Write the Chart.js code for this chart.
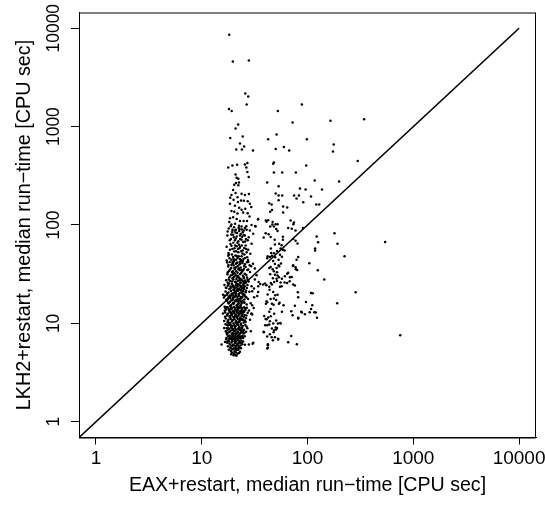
<!DOCTYPE html>
<html>
<head>
<meta charset="utf-8">
<script src="https://cdn.jsdelivr.net/npm/chart.js@4/dist/chart.umd.min.js"></script>
<style>
  html, body { margin: 0; padding: 0; background: #fff; }
  canvas { display: block; }
</style>
</head>
<body>
<canvas id="c" width="545" height="508"></canvas>
<script>
// ---- Data: [EAX+restart median run-time, LKH2+restart median run-time] in CPU sec ----
const xTitle = 'EAX+restart, median run\u2212time [CPU sec]';
const yTitle = 'LKH2+restart, median run\u2212time [CPU sec]';
const tickValues = [1, 10, 100, 1000, 10000];
const axisMin = 0.6918;
const axisMax = 14454;
const diagonalEnds = [axisMin, 10000];

const topOutliers = [[18.2,8610],[19.7,4580],[27.9,4690],[25.8,2170],[27.5,2020],[26.6,1680],[18.1,1510],[19.2,1440],[22.1,1050],[20.9,957],[18.6,764],[24.4,793],[23.0,674],[25.2,628],[24.0,586],[21.2,586],[30.5,572]];

const columnUpper = [[17.8,385],[19.5,403],[21.6,410],[25.6,413],[27.0,426],[26.4,385],[27.0,346],[27.8,308],[20.9,327],[21.4,303],[22.2,295],[21.1,267],[20.3,256],[22.2,254],[22.5,271],
[19.8,227],[19.1,202],[20.9,211],[18.6,189],[20.0,181],[21.8,192],[23.8,208],[25.6,202],[27.9,207],[23.5,177],[22.0,171],[25.0,176],[27.2,174],[28.5,164],[18.5,164],[20.6,157],[22.6,150],[23.8,143],[25.8,146],[29.4,152],[19.1,139],[20.3,136],[21.8,131],[24.6,134],[27.2,132],[28.3,122],[18.5,117],[19.8,120],[21.4,115],[23.0,110],[24.9,110],[26.8,110],[18.2,107],[19.1,101],[20.7,103],[22.5,98.5],[23.8,96.8],[25.6,93.3],[29.6,100],[32.3,96.8],[34.2,115],
[19.5,89.6],[21.1,89.6],[22.6,86.9],[24.4,84.3],[26.6,89.6],[28.5,88.1],[19.8,79.6],[21.4,76.6],[23.0,78.0],[25.6,78.0],[30.7,81.6],[18.9,72.1],[20.6,69.8],[22.2,68.2],[23.8,70.9],[27.2,69.8],[29.6,64.6],[19.1,61.7],[21.4,60.7],[23.0,59.8],[25.2,58.4],[18.5,56.1],[20.3,53.9],[22.2,52.7],[24.2,51.2],[26.6,52.7],[17.8,48.8],[19.8,47.3],[21.8,46.3],[23.8,48.0],[25.6,46.3],[19.1,44.4],[21.1,44.4],
[18.0,92],[19.4,85],[20.2,95],[21.6,83],[22.8,91],[24.1,76],[25.0,88],[26.2,72],[17.5,78],[19.9,66],[21.0,73],[22.5,63],[23.4,81],[24.7,67],[26.0,62],[27.8,75],[18.7,64],[20.4,58],[22.0,57],[23.6,54],[25.3,50],[27.5,56],[17.9,52],[19.3,50],[20.8,49],[22.9,45],[24.5,43],[26.9,47],[28.8,51],[18.3,46],[21.7,41.5],[23.2,40.5]];

const columnMid = [[17.2,43.5],[18.4,42.1],[19.6,40.8],[20.3,43.9],[21.5,41.2],[22.7,39.6],[23.9,42.8],[25.2,38.4],[26.8,41.7],[28.4,39.0],
[17.8,37.8],[19.0,36.5],[20.0,38.9],[21.1,37.2],[22.2,35.8],[23.3,36.9],[24.6,34.7],[26.0,37.5],[27.5,35.2],[29.3,38.1],
[18.1,34.1],[19.3,33.2],[20.6,35.5],[21.8,32.8],[22.9,34.6],[24.1,33.7],[25.5,31.9],[27.0,34.9],
[17.5,31.5],[18.8,30.6],[19.8,32.2],[20.9,31.1],[22.0,30.2],[23.6,32.6],[24.9,29.8],[26.4,31.0],
[18.3,29.4],[19.5,28.6],[20.4,29.9],[21.3,28.2],[22.5,29.1],[23.8,27.7],[25.0,28.8],
[17.0,27.4],[18.6,26.9],[19.9,27.9],[21.0,26.5],[22.1,27.2],[23.1,26.1],[24.4,27.0],[25.9,25.8],[27.8,26.7],
[18.0,25.6],[19.2,25.3],[20.7,26.3],[21.9,25.1],[23.4,25.9],[24.8,25.4],[26.2,26.0],
[30.5,40.3],[31.8,36.2],[33.0,30.8],[17.9,39.2],[20.1,42.6],[22.4,36.1],[24.3,41.0],[19.7,33.9],[21.6,30.4],
[16.4,24.6],[17.6,24.1],[18.7,23.7],[19.5,24.9],[20.2,23.3],[21.0,24.4],[21.8,23.9],[22.6,24.7],[23.5,23.5],[24.4,24.2],[25.6,23.8],[27.1,24.5],
[17.1,22.9],[18.2,22.4],[19.1,23.1],[19.9,22.0],[20.6,22.7],[21.4,21.6],[22.3,22.5],[23.1,21.9],[24.0,22.8],[25.1,22.2],[26.3,21.4],
[16.8,21.1],[17.9,20.6],[18.9,21.3],[19.7,20.3],[20.5,20.9],[21.2,20.1],[22.0,21.5],[22.9,20.4],[23.8,20.8],[24.8,19.9],[26.0,20.7],[28.2,21.0],
[17.3,19.6],[18.4,19.2],[19.3,19.8],[20.1,18.9],[20.9,19.4],[21.7,18.7],[22.5,19.1],[23.4,18.5],[24.6,19.5],[25.8,18.8],
[16.2,18.3],[17.7,17.9],[18.6,18.1],[19.6,17.6],[20.4,18.4],[21.1,17.3],[21.9,17.8],[22.8,17.1],[23.7,18.0],[25.3,17.5],[27.4,17.7],
[17.4,16.9],[18.5,16.5],[19.4,17.2],[20.3,16.3],[21.5,16.8],[22.4,16.1],[23.6,16.6],[24.9,16.4],
[18.0,15.9],[19.0,15.4],[20.0,15.7],[21.3,15.2],[22.2,15.8],[23.3,15.3],[26.6,15.6],[29.0,16.0],
[31.2,22.6],[33.5,19.0],[15.9,19.6],[31.8,27.9],[34.2,23.8],[31.3,18.4]];

const columnLower = [[16.5,14.8],[17.6,14.5],[18.5,14.9],[19.3,14.2],[20.1,14.7],[20.8,14.0],[21.6,14.6],[22.4,14.3],[23.2,14.8],[24.1,14.1],[25.2,14.6],[26.7,14.4],
[17.0,13.8],[18.1,13.5],[18.9,13.9],[19.7,13.3],[20.5,13.7],[21.3,13.4],[22.0,13.9],[22.8,13.2],[23.7,13.6],[24.7,13.4],[25.9,13.7],[28.0,13.5],
[16.7,12.9],[17.8,12.6],[18.7,13.0],[19.5,12.5],[20.3,12.8],[21.0,12.4],[21.8,12.9],[22.6,12.3],[23.4,12.7],[24.4,12.5],[25.5,12.2],[27.2,12.8],
[17.3,12.0],[18.3,11.8],[19.1,12.1],[19.9,11.6],[20.7,11.9],[21.5,11.5],[22.2,12.0],[23.0,11.4],[23.9,11.8],[25.0,11.6],[26.2,11.3],
[16.9,11.2],[17.9,10.9],[18.8,11.1],[19.6,10.7],[20.4,11.0],[21.2,10.6],[21.9,11.1],[22.7,10.5],[23.6,10.9],[24.6,10.8],[26.0,10.4],[28.6,10.9],
[17.5,10.3],[18.4,10.1],[19.2,10.4],[20.0,10.0],[20.9,10.2],[21.7,10.1],[22.5,10.3],[23.5,10.0],[24.9,10.2],
[18.0,14.0],[19.0,12.7],[20.2,11.4],[21.4,13.1],[22.9,14.4],[24.2,13.0],[15.9,12.6],[16.3,10.6],[29.5,12.5],[31.0,14.3],[16.6,14.4],[29.6,12.5],
[16.8,9.8],[17.7,9.5],[18.6,9.9],[19.4,9.3],[20.2,9.7],[21.0,9.4],[21.8,9.8],[22.6,9.2],[23.5,9.6],[24.5,9.4],[25.8,9.7],
[17.2,9.0],[18.2,8.8],[19.0,9.1],[19.8,8.7],[20.6,9.0],[21.4,8.6],[22.2,8.9],[23.1,8.5],[24.0,8.8],[25.1,8.6],[27.0,8.9],
[16.9,8.3],[17.9,8.1],[18.8,8.4],[19.6,8.0],[20.4,8.3],[21.2,7.9],[22.0,8.2],[22.8,7.8],[23.8,8.1],[24.8,7.9],[26.3,8.2],
[17.4,7.7],[18.4,7.5],[19.2,7.8],[20.0,7.4],[20.8,7.6],[21.6,7.3],[22.4,7.7],[23.3,7.2],[24.3,7.5],[25.5,7.4],
[17.1,7.1],[18.0,7.0],[18.9,7.2],[19.7,7.05],[20.5,7.15],[21.3,7.0],[22.1,7.1],[23.0,7.0],[24.0,7.2],
[18.5,9.6],[19.9,8.5],[21.5,9.9],[22.9,9.0],[20.9,7.9],[23.6,8.4],[16.3,9.0],[26.5,9.3],[29.1,8.3],[17.6,8.6],[19.5,7.6],[21.9,7.5],
[17.0,6.9],[17.9,6.7],[18.7,6.95],[19.5,6.6],[20.3,6.85],[21.1,6.5],[21.9,6.8],[22.7,6.45],[23.6,6.7],[24.6,6.55],
[17.4,6.35],[18.3,6.2],[19.1,6.4],[19.9,6.1],[20.7,6.3],[21.5,6.0],[22.3,6.25],[23.2,5.95],[24.2,6.15],[25.6,6.05],
[17.7,5.85],[18.6,5.7],[19.4,5.9],[20.2,5.6],[21.0,5.8],[21.8,5.55],[22.6,5.75],[23.5,5.6],
[18.1,6.55],[20.6,6.6],[22.0,5.95],[19.7,5.5],[27.9,6.1],[30.7,6.35],[15.4,6.1],[16.6,6.45],
[18.0,5.4],[18.9,5.25],[19.7,5.45],[20.5,5.2],[21.4,5.35],[22.2,5.4],[23.0,5.15],[19.3,5.05],[20.1,4.95],[21.0,5.1],[21.8,4.9],[19.0,4.85],[20.7,4.8],[22.5,5.0],[20.0,4.75],[21.3,4.7]];

const columnFill = [[18.8,97],[20.5,88],[22.3,94],[24.0,90],[26.4,97],[17.6,86],[19.0,80],[20.9,84],[23.1,72],[24.9,79],[18.4,70],[20.1,75],[21.8,66],[23.9,62],[25.7,68],[17.2,60],[19.5,57],[21.2,54],[22.7,58],[24.4,55],[26.3,57],[18.1,50],[20.0,45],[22.4,48],[24.8,45],[27.4,44],[19.6,42],[21.4,48.5],[23.5,44],[20.7,62],
[17.4,41.5],[19.1,39.3],[21.0,40.4],[22.9,42.3],[25.6,40.0],[27.6,42.0],[18.5,35.2],[20.3,36.8],[21.9,38.4],[23.7,35.1],[25.1,36.0],[28.6,33.2],[17.6,33.0],[19.5,31.3],[21.2,33.9],[23.0,31.6],[24.5,30.5],[26.8,29.3],[18.0,28.0],[19.9,29.2],[21.7,29.6],[23.3,28.5],[25.7,27.3],[17.6,26.0],[19.4,26.6],[21.3,25.5],[22.8,27.5],[25.0,26.3],[27.2,28.0],[20.4,32.4],
[17.9,24.8],[19.8,24.0],[21.4,23.6],[23.0,24.3],[24.9,23.2],[26.7,22.9],[16.9,23.0],[18.6,22.6],[20.3,21.8],[21.8,22.3],[23.6,21.7],[24.6,21.2],[17.5,20.2],[19.2,20.0],[20.8,20.5],[22.4,19.8],[24.2,20.1],[25.4,19.4],[16.6,19.1],[18.0,18.6],[19.8,18.3],[21.3,18.9],[23.0,17.8],[24.3,18.7],[26.5,18.3],[17.0,17.4],[18.9,17.1],[20.7,17.0],[22.1,16.9],[24.2,17.0],[17.8,16.2],[19.7,16.0],[21.8,15.5],[23.8,15.9],[25.4,16.2],
[17.3,14.6],[19.0,14.6],[20.6,14.3],[22.2,14.7],[23.8,14.4],[25.7,14.2],[16.5,13.4],[18.5,13.2],[20.1,13.1],[21.7,13.6],[23.3,13.3],[25.2,13.1],[17.5,12.3],[19.2,12.3],[20.8,12.2],[22.4,12.6],[24.0,12.1],[26.5,12.0],[16.6,11.7],[18.6,11.5],[20.4,11.7],[21.8,11.8],[23.3,11.2],[24.3,11.0],[17.7,10.6],[19.4,10.8],[21.2,10.3],[22.9,10.8],[25.5,10.7],[18.1,10.05],
[17.4,9.7],[19.0,9.5],[20.6,9.35],[22.2,9.6],[24.0,9.1],[17.8,8.9],[19.4,8.8],[21.0,8.6],[22.6,8.7],[24.5,8.3],[17.2,8.0],[18.4,8.2],[20.0,7.9],[21.6,8.1],[23.2,8.0],[25.3,8.0],[17.8,7.4],[19.5,7.3],[21.0,7.25],[22.7,7.4],[24.6,7.1],[18.5,7.0],[20.3,7.0],[21.8,7.0],[23.5,7.35],
[17.6,6.6],[19.3,6.8],[20.9,6.7],[22.5,6.6],[24.0,6.4],[18.8,6.0],[20.4,5.95],[21.7,6.2],[23.0,6.3],[19.0,5.55],[20.9,5.5],[22.3,5.6]];

const sparseRight = [[42.5,746],[51.0,831],[52.5,1440],[88.5,1680],[72.3,1100],[165,1150],[343,1190],[98.6,746],[177,658],[174,559],[50.0,591],[59.8,619],[67.1,572],[298,447],[97.2,403],[48.1,432],[47.4,419],
[48.1,342],[57.7,342],[77.6,342],[41.6,271],[117,284],[199,277],[53.3,247],[84.8,235],[95.9,230],[137,230],
[50.0,209],[53.3,200],[57.7,200],[74.8,200],[82.9,200],[78.8,186],[108,195],[53.3,178],[91.1,170],[121,162],[129,162],[43.5,166],[45.8,162],[58.9,154],[64.3,151],
[44.4,136],[46.1,142],[58.9,134],[34.0,114],[40.4,111],[42.5,112],[69.2,111],[74.3,106],[46.8,107],[50.0,102],[52.1,102],[48.1,96.8],[50.6,91.1],[52.1,86.9],[65.7,93.3],[77.1,88.1],[90.5,93.3],[32.0,97.7],
[40.2,82.2],[38.5,74.8],[44.8,75.5],[42.9,80.3],[58.5,76.1],[58.5,70.9],[73.2,72.1],[77.1,69.3],[80.5,65.0],[122,76.6],[126,66.6],[180,82.2],[192,64.6],[542,67.2],
[48.9,70.9],[49.2,63.5],[54.0,64.6],[56.9,62.1],[58.5,56.1],[55.7,57.8],[60.7,55.2],[118,57.8],[118,55.2],[224,48.0],
[42.0,48.0],[44.1,47.3],[46.1,48.8],[47.4,43.1],[49.5,46.9],[54.9,49.9],[53.3,44.4],[57.3,47.7],[81.7,47.3],[78.8,44.4],[73.2,38.9],[77.1,37.1],[77.6,35.4],[104,40.8],[125,34.6],
[65.7,32.8],[68.2,29.4],[61.1,30.1],[60.7,26.1],[144,28.0],[38.1,24.9],[34.5,26.4],[29.6,23.8],[30.0,21.2],[73.2,24.9],[76.0,24.2],[81.1,20.7],[81.7,18.4],[108,20.4],[112,20.2],[285,20.7],[191,16.0],
[54.5,16.2],[59.4,15.3],[96.6,16.5],[111,15.3],[108,14.0],[105,13.0],[116,13.0],[94.5,12.4],[87.2,13.1],[123,11.4],[76.0,15.1],[70.2,13.3],[57.3,13.1],[81.7,11.2],[72.3,12.1],[30.0,15.3],[30.0,12.3],
[38.7,8.12],[44.1,7.75],[41.6,7.35],[49.2,7.22],[52.8,6.85],[47.1,6.74],[42.2,6.13],[42.2,5.64],[70.2,7.46],[65.7,6.43],[79.3,6.13],[30.3,6.19],[752,7.57],
[44.8,37.5],[46.8,35.4],[51.0,36.6],[54.0,38.0],[48.1,33.8],[49.2,31.3],[52.1,30.6],[47.1,28.7],[48.4,26.4],[51.0,28.5],
[45.0,25.8],[46.1,24.8],[43.5,23.5],[40.9,24.4],[56.9,23.8],[55.7,26.0],
[41.6,16.4],[40.4,15.8],[44.8,17.7],[48.1,17.9],[50.6,17.3],[46.1,15.8],[52.1,19.5],
[39.0,11.9],[41.0,11.0],[45.0,11.8],[44.1,10.5],[43.5,9.72],[47.4,9.95],[39.8,9.57],[46.1,8.86],[50.6,10.7],[50.0,9.06],[50.6,8.65],[47.8,8.12],[55.7,10.0],
[41.0,108],[46.5,101],[44.4,96.8],[73.6,102],[71.0,91.7],[45.0,57.8],[45.4,52.0],[48.4,51.5],[51.5,54.5],[56.1,40.5],[53.3,38.9],[49.2,40.2],[41.6,45.9],[72.8,38.4],[79.9,34.9],
[43.5,36.6],[51.5,33.0],[44.4,31.5],[53.7,29.4],[51.5,27.0],[64.3,32.0],[57.3,28.5],[71.0,29.6],[35.7,25.2],[39.7,25.4],[64.3,25.8],[67.9,26.8],[54.9,23.5],[43.8,22.0],[47.4,20.9],
[34.2,20.9],[42.0,19.7],[49.5,19.3],[41.0,16.8],[47.8,15.5],[53.7,15.8],[44.8,14.0],[43.5,13.1],[48.4,12.5],[42.5,11.5],[120,12.9],[88.5,12.9],[81.7,11.4],
[40.2,11.1],[52.5,9.95],[55.3,10.1],[41.6,9.57],[51.5,9.0],[48.4,8.51],[38.5,8.2],[45.8,7.22],[52.8,6.96],[42.2,5.99],[41.6,5.56]];

// ---- Build chart ----
const FONT = "'Liberation Sans', Arial, Helvetica, sans-serif";
const allPairs = [].concat(topOutliers, columnUpper, columnMid, columnLower, columnFill, sparseRight);
const scatterPoints = allPairs.map(p => ({x: p[0], y: p[1]}));
const diagonalPoints = diagonalEnds.map(v => ({x: v, y: v}));

const setTicks = scale => { scale.ticks = tickValues.map(v => ({value: v})); };

const boxPlugin = {
  id: 'box',
  afterDraw(chart) {
    const {ctx, chartArea: a} = chart;
    ctx.save();
    ctx.strokeStyle = '#000';
    ctx.lineWidth = 1;
    ctx.strokeRect(a.left + 0.5, a.top + 0.5, a.right - a.left - 1, a.bottom - a.top);
    ctx.restore();
  }
};

new Chart(document.getElementById('c'), {
  type: 'scatter',
  data: {
    datasets: [
      {
        label: 'instances',
        data: scatterPoints,
        backgroundColor: '#000',
        borderWidth: 0,
        pointRadius: 1.25,
        pointHoverRadius: 1.25
      },
      {
        type: 'line',
        label: 'y = x',
        data: diagonalPoints,
        borderColor: '#000',
        borderWidth: 1.6,
        pointRadius: 0,
        fill: false,
        tension: 0
      }
    ]
  },
  options: {
    responsive: false,
    animation: false,
    devicePixelRatio: 1,
    layout: { padding: { left: 0, top: 12.5, right: 9, bottom: 0 } },
    plugins: { legend: { display: false }, tooltip: { enabled: false } },
    scales: {
      x: {
        type: 'logarithmic',
        position: 'bottom',
        min: axisMin,
        max: axisMax,
        afterBuildTicks: setTicks,
        afterFit(scale) { scale.height = 70.5; scale.paddingLeft = 0; scale.paddingRight = 0; },
        grid: { display: true, drawOnChartArea: false, drawTicks: true, tickLength: 7, color: '#000', lineWidth: 1 },
        border: { display: true, color: '#000', width: 1 },
        ticks: {
          autoSkip: false, maxRotation: 0, minRotation: 0,
          color: '#000', padding: 3,
          font: { family: FONT, size: 19, lineHeight: 1.2 },
          callback: v => String(v)
        },
        title: {
          display: true, text: xTitle, color: '#000',
          font: { family: FONT, size: 19.6, lineHeight: 1.2 },
          padding: { top: 0, bottom: 10.4 }
        }
      },
      y: {
        type: 'logarithmic',
        position: 'left',
        min: axisMin,
        max: axisMax,
        afterBuildTicks: setTicks,
        afterFit(scale) { scale.width = 79; scale.paddingTop = 0; scale.paddingBottom = 0; },
        grid: { display: true, drawOnChartArea: false, drawTicks: true, tickLength: 8, color: '#000', lineWidth: 1 },
        border: { display: true, color: '#000', width: 1 },
        ticks: {
          autoSkip: false, minRotation: 90, maxRotation: 90,
          crossAlign: 'center',
          color: '#000', padding: -7.3,
          font: { family: FONT, size: 17.5, lineHeight: 1.2 },
          callback: v => String(v)
        },
        title: {
          display: true, text: yTitle, color: '#000',
          font: { family: FONT, size: 19.8, lineHeight: 1.2 },
          padding: { top: 12.2, bottom: 0 }
        }
      }
    }
  },
  plugins: [boxPlugin]
});
</script>
</body>
</html>
